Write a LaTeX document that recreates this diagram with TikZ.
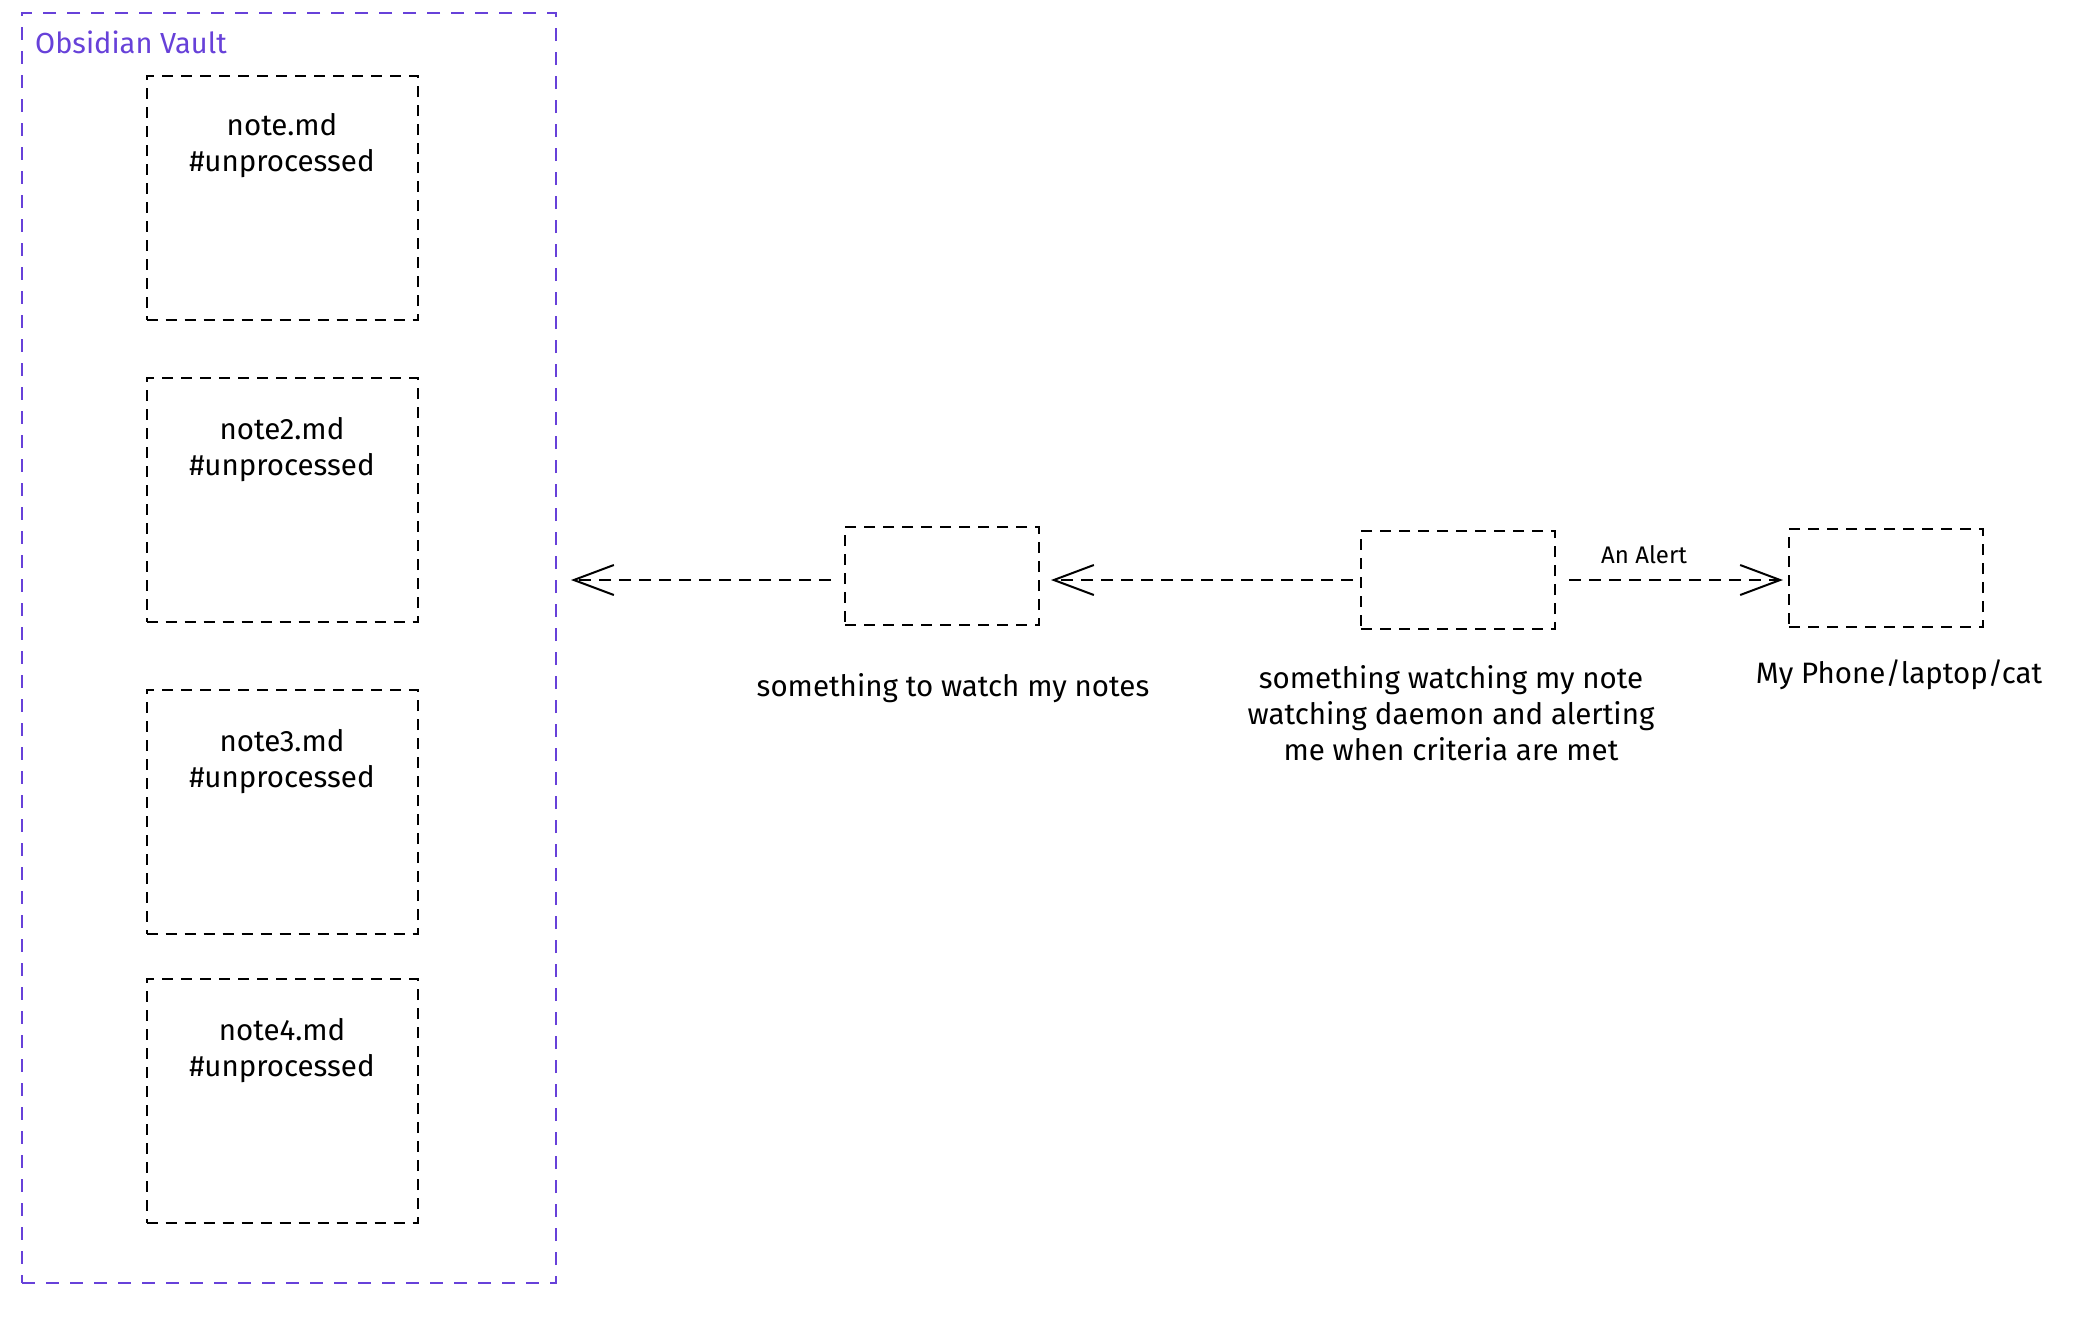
\documentclass[tikz,border=0pt]{standalone}
\usepackage{fontspec}
\setmainfont{Fira Sans}
\usetikzlibrary{arrows.meta}
\definecolor{vaultc}{HTML}{6741D9}
\begin{document}
\begin{tikzpicture}[x=1pt,y=-1pt,
  notebox/.style={draw=black, line width=2pt, dash pattern=on 11pt off 8pt,
    minimum width=271pt, minimum height=244pt, inner sep=0pt},
  compbox/.style={draw=black, line width=2pt, dash pattern=on 11pt off 8pt,
    minimum width=194pt, minimum height=98pt, inner sep=0pt},
  notetext/.style={font=\fontsize{29.5pt}{36pt}\selectfont, align=center, inner sep=0pt},
  lbl/.style={font=\fontsize{29.5pt}{36pt}\selectfont, align=center, inner sep=0pt},
  conn/.style={draw=black, line width=2pt, dash pattern=on 12pt off 8pt,
    -{Straight Barb[length=40pt,width=30pt,line width=2pt]}}
]
\useasboundingbox (0,0) rectangle (2082,1318);
\fill[white] (0,0) rectangle (2082,1318);

% vault
\node[draw=vaultc, line width=2pt, dash pattern=on 13pt off 11pt,
  minimum width=534pt, minimum height=1270pt, inner sep=0pt] (vault) at (289,648) {};
\node[text=vaultc, font=\fontsize{29pt}{34pt}\selectfont, anchor=west, inner sep=0pt] (vtitle) at (35,42) {Obsidian Vault};

% notes
\node[notebox] (n1) at (282,198) {};
\node[notetext] (t1) at (282,146) {note.md\\\#unprocessed};
\node[notebox] (n2) at (282,500) {};
\node[notetext] (t2) at (282,450) {note2.md\\\#unprocessed};
\node[notebox] (n3) at (282,812) {};
\node[notetext] (t3) at (282,762) {note3.md\\\#unprocessed};
\node[notebox] (n4) at (282,1101) {};
\node[notetext] (t4) at (282,1051) {note4.md\\\#unprocessed};

% components
\node[compbox] (a) at (942,576) {};
\node[compbox] (b) at (1458,580) {};
\node[compbox] (c) at (1886,578) {};

\node[lbl] (la) at (953,688) {something to watch my notes};
\node[lbl] (lb) at (1451,713) {something watching my note\\watching daemon and alerting\\me when criteria are met};
\node[lbl] (lc) at (1899,675) {My Phone/laptop/cat};

% connectors
\coordinate (a1) at ([yshift=-4pt]a.west);
\draw[conn, shorten <=13pt, shorten >=14pt] (a1) -- (a1 -| vault.east);
\draw[conn, shorten <=7pt, shorten >=11pt] (b.west) -- (a.east |- b.west);
\draw[conn, shorten <=13pt, shorten >=5pt] (b.east) -- node[above=15pt, xshift=-28pt, inner sep=0pt, font=\fontsize{24pt}{28pt}\selectfont] (alert) {An Alert} (c.west |- b.east);
\end{tikzpicture}
\end{document}
